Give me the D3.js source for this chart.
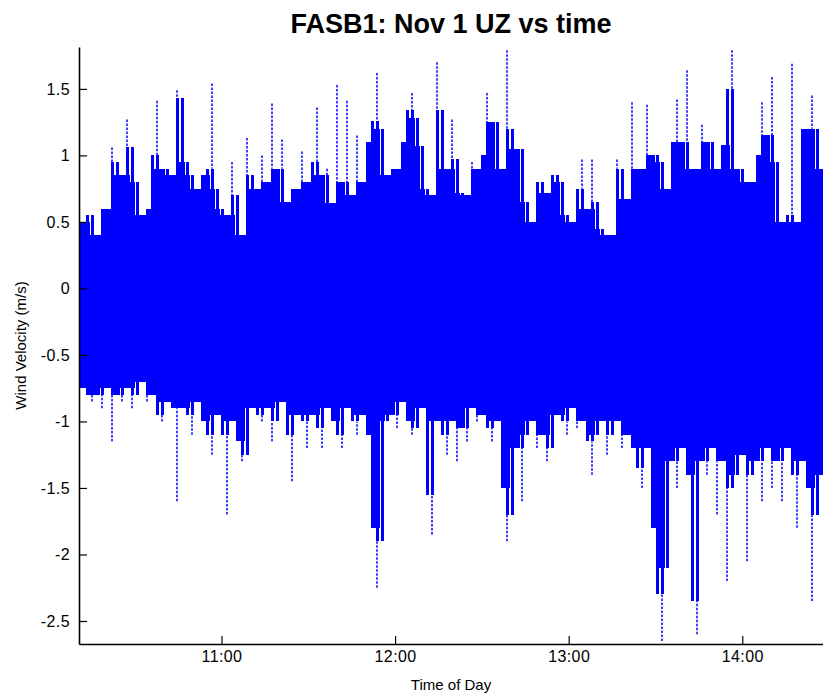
<!DOCTYPE html>
<html>
<head>
<meta charset="utf-8">
<script src="https://cdn.jsdelivr.net/npm/d3@7"></script>
<style>
  body { margin: 0; background: #fff; }
  svg { display: block; font-family: "Liberation Sans", Arial, Helvetica, sans-serif; }
  .title { font-weight: bold; font-size: 27px; }
  .tick text { font-size: 16px; letter-spacing: 0.4px; fill: #000; }
  .axis-label { font-size: 15px; }
</style>
</head>
<body>
<svg id="chart" width="823" height="696"></svg>
<script>
// sampled record: one envelope value pair every ~1.73 min
var startTime = new Date(2000, 10, 1, 10, 10, 45),
    endTime = new Date(2000, 10, 1, 14, 27, 54),
    stepSeconds = 103.7;

// upper envelope of UZ (m/s)
var upper = [
  0.5, 0.55, 0.55, 0.32, 0.6, 0.6, 1.06, 0.95, 0.85, 1.27,
  1.06, 0.8, 0.55, 0.6, 1.0, 1.41, 0.9, 0.9, 0.85, 1.49,
  1.43, 0.95, 0.85, 0.75, 0.85, 0.9, 1.54, 0.75, 0.6, 0.55,
  0.95, 0.7, 0.35, 1.13, 0.85, 0.75, 1.0, 0.8, 1.39, 0.9,
  1.12, 0.65, 0.75, 0.75, 1.03, 0.8, 0.95, 1.36, 0.85, 0.9,
  0.64, 1.53, 0.8, 1.41, 0.7, 1.15, 0.8, 1.1, 1.26, 1.62,
  1.2, 0.85, 0.9, 0.9, 1.1, 1.34, 1.47, 1.28, 1.07, 0.75,
  0.7, 1.7, 1.34, 0.9, 1.27, 0.97, 0.72, 0.7, 0.95, 0.9,
  1.0, 1.47, 1.25, 1.25, 0.9, 1.79, 1.2, 1.05, 1.05, 0.65,
  0.5, 0.8, 0.8, 0.72, 0.85, 0.85, 0.8, 0.55, 0.5, 0.75,
  0.97, 0.6, 0.97, 0.65, 0.45, 0.4, 0.3, 0.97, 0.9, 0.67,
  1.4, 0.9, 0.9, 1.38, 1.0, 1.0, 0.95, 0.75, 1.1, 1.42,
  1.1, 1.64, 0.9, 0.9, 1.23, 1.1, 1.1, 0.9, 1.08, 1.5,
  1.79, 0.9, 0.9, 0.8, 0.8, 1.0, 1.4, 1.15, 1.59, 0.95,
  0.5, 0.55, 1.69, 0.5, 1.2, 1.2, 1.45, 1.2, 0.9
];

// lower envelope of UZ (m/s)
var lower = [
  -0.75, -0.8, -0.85, -0.8, -0.9, -0.75, -1.15, -0.8, -0.85, -0.75,
  -0.9, -0.8, -0.7, -0.85, -0.8, -0.95, -1.0, -0.85, -0.9, -1.6,
  -0.9, -0.95, -1.1, -0.85, -1.0, -1.1, -1.25, -0.95, -1.1, -1.7,
  -1.0, -1.15, -1.3, -1.25, -0.9, -0.95, -1.0, -0.9, -1.15, -1.0,
  -0.85, -1.1, -1.45, -0.95, -1.0, -1.2, -0.95, -1.05, -1.2, -0.9,
  -1.0, -1.1, -1.2, -0.9, -1.0, -1.1, -0.95, -1.1, -1.8, -2.25,
  -1.9, -1.0, -0.95, -1.05, -0.85, -1.0, -1.1, -1.05, -0.9, -1.55,
  -1.85, -1.0, -1.1, -1.25, -1.0, -1.3, -1.05, -1.15, -0.9, -1.0,
  -0.95, -1.05, -1.15, -1.0, -1.5, -1.9, -1.7, -1.2, -1.6, -1.1,
  -1.0, -1.2, -1.1, -1.3, -1.2, -0.95, -1.0, -1.1, -0.9, -1.05,
  -1.0, -1.15, -1.4, -1.1, -1.0, -1.25, -1.1, -1.0, -1.2, -1.1,
  -1.2, -1.35, -1.5, -1.2, -1.8, -2.3, -2.65, -2.1, -1.3, -1.5,
  -1.2, -1.4, -2.35, -2.6, -1.3, -1.4, -1.2, -1.7, -1.3, -2.2,
  -1.5, -1.4, -1.25, -2.05, -1.4, -1.3, -1.6, -1.2, -1.5, -1.3,
  -1.6, -1.2, -1.4, -1.8, -1.3, -1.5, -2.35, -1.7, -1.4
];

// band that is solid blue along the whole record (m/s)
var coreBand = [-0.35, 0.4];

var yTicks = [-2.5, -2, -1.5, -1, -0.5, 0, 0.5, 1, 1.5];
var xTicks = [11, 12, 13, 14];

var svg = d3.select("#chart");
var margin = {top: 47, right: 0, bottom: 52, left: 79},
    width = 823 - margin.left - margin.right,
    height = 696 - margin.top - margin.bottom;

var x = d3.scaleTime().domain([startTime, endTime]).range([0, width]);
var y = d3.scaleLinear().domain([-2.673, 1.815]).range([height, 0]);

var times = upper.map(function(d, i) { return new Date(+startTime + i * stepSeconds * 1000); });
function nb(arr, i) {
  var a = arr[i - 1] === undefined ? arr[i] : arr[i - 1],
      b = arr[i + 1] === undefined ? arr[i] : arr[i + 1];
  return [Math.min(a, b), Math.max(a, b)];
}
// each sample is tapered: full width up to its lower neighbour,
// narrower up to its higher neighbour, a thin dotted tip beyond
var data = upper.map(function(d, i) {
  var hn = nb(upper, i), ln = nb(lower, i), lo = lower[i];
  return {
    t: times[i], hi: d, lo: lo,
    fullHi: Math.min(d, hn[0]), fullLo: Math.max(lo, ln[1]),
    midHi: Math.min(d, hn[1]), midLo: Math.max(lo, ln[0])
  };
});

svg.append("defs").append("clipPath").attr("id", "plot-clip")
  .append("rect").attr("width", width).attr("height", height);

var g = svg.append("g").attr("transform", "translate(" + margin.left + "," + margin.top + ")");
var plot = g.append("g").attr("clip-path", "url(#plot-clip)").attr("fill", "#0000ff");

var step = function(d) { return x(new Date(+d.t + stepSeconds * 1000)) - x(d.t); };
var mid = function(d) { return Math.round(x(d.t) + step(d) / 2); };

plot.append("rect").attr("class", "core")
  .attr("x", x(times[0]))
  .attr("width", x(new Date(+times[times.length - 1] + stepSeconds * 1000)) - x(times[0]))
  .attr("y", y(coreBand[1]))
  .attr("height", y(coreBand[0]) - y(coreBand[1]))
  .attr("shape-rendering", "crispEdges");

plot.selectAll("rect.full")
  .data(data)
  .enter().append("rect").attr("class", "full")
  .attr("x", function(d) { return x(d.t); })
  .attr("width", function(d) { return step(d) + 0.6; })
  .attr("y", function(d) { return y(d.fullHi); })
  .attr("height", function(d) { return Math.max(0, y(d.fullLo) - y(d.fullHi)); })
  .attr("shape-rendering", "crispEdges");

plot.selectAll("rect.mid")
  .data(data)
  .enter().append("rect").attr("class", "mid")
  .attr("x", function(d) { return mid(d) - 1.5; })
  .attr("width", 3)
  .attr("y", function(d) { return y(d.midHi); })
  .attr("height", function(d) { return Math.max(0, y(d.midLo) - y(d.midHi)); })
  .attr("shape-rendering", "crispEdges");

// thin tips above and below the tapered body
var tips = [];
data.forEach(function(d) {
  tips.push({x: mid(d), a: d.hi, b: d.midHi});
  tips.push({x: mid(d), a: d.lo, b: d.midLo});
});
plot.selectAll("line.tip")
  .data(tips.filter(function(d) { return d.a !== d.b; }))
  .enter().append("line").attr("class", "tip")
  .attr("x1", function(d) { return d.x; })
  .attr("x2", function(d) { return d.x; })
  .attr("y1", function(d) { return y(d.a); })
  .attr("y2", function(d) { return y(d.b); })
  .attr("stroke", "#0000ff")
  .attr("stroke-width", 1.5)
  .attr("stroke-dasharray", "2.5,1.5");

// axes, MATLAB style: ticks pointing inward, no box
var xAxis = d3.axisBottom(x)
  .tickValues(xTicks.map(function(h) { return new Date(2000, 10, 1, h, 0, 0); }))
  .tickFormat(d3.timeFormat("%H:%M"))
  .tickSizeInner(-8).tickSizeOuter(0).tickPadding(7);
var yAxis = d3.axisLeft(y)
  .tickValues(yTicks)
  .tickFormat(function(d) { return d; })
  .tickSizeInner(-8).tickSizeOuter(0).tickPadding(9);

var gx = g.append("g").attr("transform", "translate(0," + height + ")").call(xAxis);
var gy = g.append("g").call(yAxis);
[gx, gy].forEach(function(a) {
  a.select(".domain").attr("stroke", "#000").attr("stroke-width", 1.6);
  a.selectAll(".tick line").attr("stroke", "#000").attr("stroke-width", 1.2);
  a.attr("font-family", null).attr("font-size", null);
});

svg.append("text").attr("class", "title")
  .attr("x", margin.left + width / 2).attr("y", 33)
  .attr("text-anchor", "middle")
  .text("FASB1: Nov 1 UZ vs time");

svg.append("text").attr("class", "axis-label")
  .attr("x", margin.left + width / 2).attr("y", 690)
  .attr("text-anchor", "middle")
  .text("Time of Day");

svg.append("text").attr("class", "axis-label")
  .attr("transform", "translate(26," + (margin.top + height / 2) + ") rotate(-90)")
  .attr("text-anchor", "middle")
  .text("Wind Velocity (m/s)");
</script>
</body>
</html>
